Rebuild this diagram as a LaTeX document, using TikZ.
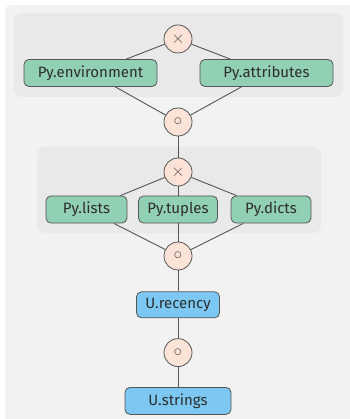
\documentclass[tikz,border=0pt]{standalone}
\usepackage{fontspec}
\setmainfont{Fira Sans}
\usetikzlibrary{calc,positioning}

\definecolor{pagebg}{RGB}{242,242,242}
\definecolor{groupbg}{RGB}{233,233,233}
\definecolor{pygreen}{RGB}{146,208,180}
\definecolor{ublue}{RGB}{124,200,242}
\definecolor{oppink}{RGB}{253,226,215}
\definecolor{edgegray}{RGB}{85,85,85}
\definecolor{textgray}{RGB}{45,45,45}

\begin{document}
\begin{tikzpicture}[x=1pt,y=-1pt]
    \tikzstyle{line} = [draw=edgegray, line width=0.9pt]
    \tikzstyle{block} = [draw=edgegray, line width=0.8pt, rounded corners=5pt, minimum height=27pt, inner sep=0pt, text=textgray, font=\fontsize{15}{17}\selectfont]
    \tikzstyle{pybox} = [block, fill=pygreen]
    \tikzstyle{ubox} = [block, fill=ublue]
    \tikzstyle{op} = [circle, draw=edgegray, line width=0.8pt, fill=oppink, minimum size=28pt, inner sep=0pt, text=edgegray, font=\fontsize{17}{19}\selectfont]

    \def\midX{178}

    % background and groups
    \useasboundingbox (0,0) rectangle (349,419);
    \fill[pagebg, rounded corners=6pt] (5,5) rectangle (355,425);
    \fill[groupbg, rounded corners=8pt] (14,13) rectangle (343,97);
    \fill[groupbg, rounded corners=8pt] (37,147) rectangle (321,233);

    % first group
    \node (prodA) [op] at (\midX,39) {$\times$};
    \node (env) [pybox, minimum width=133pt] at (90.5,73) {Py.environment};
    \node (attr) [pybox, minimum width=133pt] at (266.5,73) {Py.attributes};
    \node (seqA) [op] at (\midX,122) {$\circ$};

    % second group
    \node (prodB) [op] at (\midX,172) {$\times$};
    \node (lists) [pybox, minimum width=81pt] at (86.5,209.5) {Py.lists};
    \node (tuples) [pybox, minimum width=79pt] at (\midX,209.5) {Py.tuples};
    \node (dicts) [pybox, minimum width=80pt] at (271,209.5) {Py.dicts};
    \node (seqB) [op] at (\midX,256) {$\circ$};

    % user chain
    \node (recency) [ubox, minimum width=83pt, minimum height=26pt, below=21pt of seqB] {U.recency};
    \node (seqC) [op, below=20pt of recency] {$\circ$};
    \node (strings) [ubox, minimum width=106pt, below=20pt of seqC] {U.strings};

    \path [line] (prodA) -- (env);
    \path [line] (prodA) -- (attr);
    \path [line] (env) -- (seqA);
    \path [line] (attr) -- (seqA);
    \path [line] (seqA) -- (prodB);

    \path [line] (prodB) -- (lists);
    \path [line] (prodB) -- (tuples);
    \path [line] (prodB) -- (dicts);
    \path [line] (lists) -- (seqB);
    \path [line] (tuples) -- (seqB);
    \path [line] (dicts) -- (seqB);

    \path [line] (seqB) -- (recency);
    \path [line] (recency) -- (seqC);
    \path [line] (seqC) -- (strings);
\end{tikzpicture}
\end{document}
